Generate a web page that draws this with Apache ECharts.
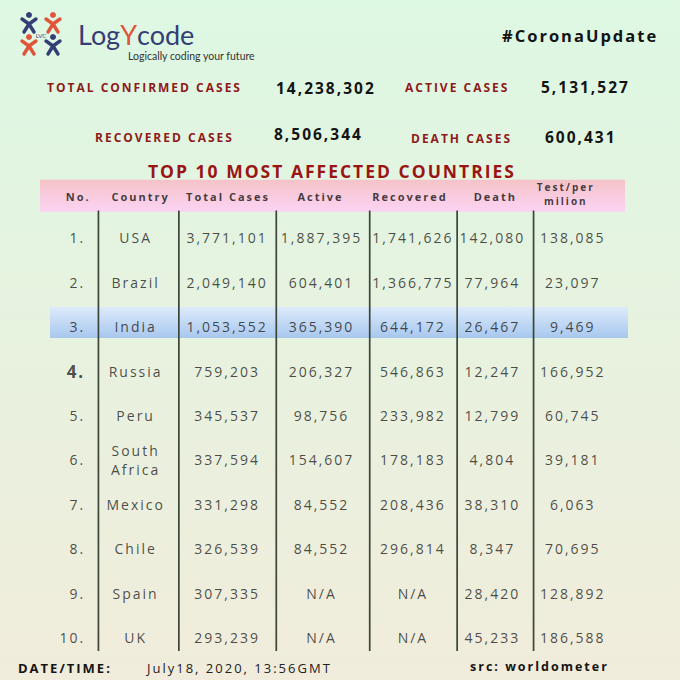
<!DOCTYPE html>
<html><head><meta charset="utf-8">
<script src="https://cdn.jsdelivr.net/npm/echarts@6/dist/echarts.min.js"></script>
<style>
html,body{margin:0;padding:0;}
#c{width:680px;height:680px;}
svg text{letter-spacing:2px;}
svg text[style*="Lato"]{letter-spacing:0;}
</style></head>
<body><div id="c"></div>
<script>
// ---- data ----
const headers = ['No.', 'Country', 'Total Cases', 'Active', 'Recovered', 'Death', 'Test/per\nmilion'];
const ranks = ['1.', '2.', '3.', '4.', '5.', '6.', '7.', '8.', '9.', '10.'];
const countries = ['USA', 'Brazil', 'India', 'Russia', 'Peru', 'South Africa', 'Mexico', 'Chile', 'Spain', 'UK'];
const totalCases = [3771101, 2049140, 1053552, 759203, 345537, 337594, 331298, 326539, 307335, 293239];
const activeCases = [1887395, 604401, 365390, 206327, 98756, 154607, 84552, 84552, null, null];
const recoveredCases = [1741626, 1366775, 644172, 546863, 233982, 178183, 208436, 296814, null, null];
const deathCases = [142080, 77964, 26467, 12247, 12799, 4804, 38310, 8347, 28420, 45233];
const testsPerMillion = [138085, 23097, 9469, 166952, 60745, 39181, 6063, 70695, 128892, 186588];
const summaryLabels = ['TOTAL CONFIRMED CASES', 'ACTIVE CASES', 'RECOVERED CASES', 'DEATH CASES'];
const summaryValues = [14238302, 5131527, 8506344, 600431];
const highlightCountry = 'India';

// ---- build ----
const fmt = v => (v === null ? 'N/A' : v.toLocaleString('en-US'));
const rowCats = ['header'].concat(ranks);
const columns = [ranks, countries.map(c => c.replace(' ', '\n')), totalCases.map(fmt), activeCases.map(fmt),
  recoveredCases.map(fmt), deathCases.map(fmt), testsPerMillion.map(fmt)];
// style: label nudges (px) per column, header nudges, separator nudges
const colOffsets = [22, -14, -9, -1, 4, -3, -9];
const headOffsets = [15, -9, -8, -2, 1, 0, -16];
const sepNudges = [-8, -14, -3, 4, 5, -5];
const NAVY = '#353d76', RED = '#e0553a';
const FONT = '"Open Sans", "DejaVu Sans", sans-serif';

const chart = echarts.init(document.getElementById('c'), null, {renderer: 'svg', width: 680, height: 680});

const cellSeries = columns.map((col, ci) => ({
  type: 'scatter', symbolSize: 1, itemStyle: {color: 'transparent'}, silent: true, z: 5,
  data: [{name: headers[ci], value: [ci, 0], label: {fontWeight: 'bold', fontSize: ci === 6 ? 10 : 11, color: '#111',
      lineHeight: ci === 6 ? 14 : 11, offset: [headOffsets[ci], ci === 6 ? 1 : 3], align: 'center'}}]
    .concat(col.map((t, ri) => ({name: t, value: [ci, ri + 1],
      label: ci === 0 && ri === 3 ? {fontSize: 17, fontWeight: 'bold', color: '#222'} : {}}))),
  label: {show: true, position: 'inside', formatter: '{b}', fontFamily: FONT, fontSize: 14, color: '#1e1e1e',
    lineHeight: 19, align: ci === 0 ? 'right' : 'center', offset: [colOffsets[ci], 0]}
}));

const bandSeries = {
  type: 'custom', silent: true, z: 1,
  data: [[0, 0], [0, countries.indexOf(highlightCountry) + 1]],
  renderItem(params, api) {
    const cs = params.coordSys;
    const row = api.value(1);
    const cy = api.coord([0, row])[1];
    const isHeader = row === 0;
    const h = isHeader ? 32 : 31;
    const y = cy - h / 2 + (isHeader ? 2.5 : -4);
    const x0 = cs.x + (isHeader ? 20 : 30);
    const x1 = cs.x + cs.width + (isHeader ? 0 : 3);
    return {type: 'rect', shape: {x: x0, y: y, width: x1 - x0, height: h},
      style: {fill: new echarts.graphic.LinearGradient(0, 0, 0, 1, isHeader
        ? [{offset: 0, color: '#f5c3c8'}, {offset: 1, color: '#fbd3f3'}]
        : [{offset: 0, color: '#dcebfb'}, {offset: 1, color: '#a8c7ee'}])}};
  }
};

const sepSeries = {
  type: 'custom', silent: true, z: 3,
  data: [0, 1, 2, 3, 4, 5].map(c => [c, 0]),
  renderItem(params, api) {
    const cs = params.coordSys;
    const c = api.value(0);
    const p = api.coord([c, 0]);
    const s = api.size([1, 1]);
    const x = p[0] + s[0] / 2 + sepNudges[c];
    return {type: 'line', shape: {x1: x, y1: p[1] + s[1] / 2 - 5, x2: x, y2: cs.y + cs.height - 9},
      style: {stroke: '#3b4538', lineWidth: 1.7}};
  }
};

// logo figures (four little people in a ring)
const logo = [];
const lc = [41, 35];
[[-1, -1, NAVY], [1, -1, RED], [-1, 1, RED], [1, 1, NAVY]].forEach(([dx, dy, col]) => {
  const fx = lc[0] + dx * 12, fy = lc[1] + dy * 11;
  logo.push({type: 'polyline', shape: {points: [[fx - 7, fy - 5], [fx, fy], [fx + 7, fy - 5]]}, style: {stroke: col, lineWidth: 3.4, fill: null, lineCap: 'round', lineJoin: 'round'}});
  logo.push({type: 'polyline', shape: {points: [[fx - 5, fy + 8], [fx, fy], [fx + 5, fy + 8]]}, style: {stroke: col, lineWidth: 3.4, fill: null, lineCap: 'round', lineJoin: 'round'}});
  logo.push({type: 'circle', shape: {cx: fx, cy: fy - 9, r: 3}, style: {fill: col}});
});
logo.push({type: 'text', x: lc[0], y: lc[1], style: {text: 'LVC', fontSize: 6, fontFamily: 'Lato', fill: NAVY, textAlign: 'center', textVerticalAlign: 'middle'}});

const txt = (text, x, y, o) => ({type: 'text', x: x, y: y, style: Object.assign({text: text, fontFamily: FONT, textVerticalAlign: 'middle', textAlign: 'left'}, o)});
const lab = {fontSize: 12, fontWeight: 'bold', fill: '#8e1a1a'};
const num = {fontSize: 15.5, fontWeight: 'bold', fill: '#141414'};

const graphics = logo.concat([
  txt('{n|Log}{y|Y}{n|code}', 78, 34, {fontFamily: 'Lato', fontSize: 27, fill: NAVY,
    rich: {n: {fontFamily: 'Lato', fontSize: 27, lineHeight: 27, fill: NAVY}, y: {fontFamily: 'Lato', fontSize: 27, lineHeight: 27, fill: RED}}}),
  txt('Logically coding your future', 128, 56, {fontFamily: 'Lato', fontSize: 10.5, fill: '#333'}),
  txt('#CoronaUpdate', 502, 35, {fontSize: 16.5, fontWeight: 'bold', fill: '#141414'}),
  txt(summaryLabels[0], 47, 87, lab),
  txt(fmt(summaryValues[0]), 276, 88, num),
  txt(summaryLabels[1], 405, 87, lab),
  txt(fmt(summaryValues[1]), 541, 87, num),
  txt(summaryLabels[2], 95, 137, lab),
  txt(fmt(summaryValues[2]), 274, 134, num),
  txt(summaryLabels[3], 411, 138, lab),
  txt(fmt(summaryValues[3]), 545, 137, num),
  txt('TOP 10 MOST AFFECTED COUNTRIES', 332, 171, {fontSize: 17.5, fontWeight: 'bold', fill: '#9a1414', textAlign: 'center'}),
  txt('DATE/TIME:', 18, 668, {fontSize: 13, fontWeight: 'bold', fill: '#141414'}),
  txt('July18, 2020, 13:56GMT', 147, 668, {fontSize: 13, fill: '#222'}),
  txt('src: worldometer', 470, 666, {fontSize: 12.5, fontWeight: 'bold', fill: '#141414'})
]);

chart.setOption({
  animation: false,
  backgroundColor: new echarts.graphic.LinearGradient(0, 0, 0, 1, [{offset: 0, color: '#ddf8e3'}, {offset: 1, color: '#f1ecdb'}]),
  grid: {left: 20, right: 55, top: 171, bottom: 20},
  xAxis: {type: 'category', data: headers, show: false},
  yAxis: {type: 'category', data: rowCats, inverse: true, show: false},
  graphic: graphics,
  series: [bandSeries, sepSeries].concat(cellSeries)
});
</script></body></html>
